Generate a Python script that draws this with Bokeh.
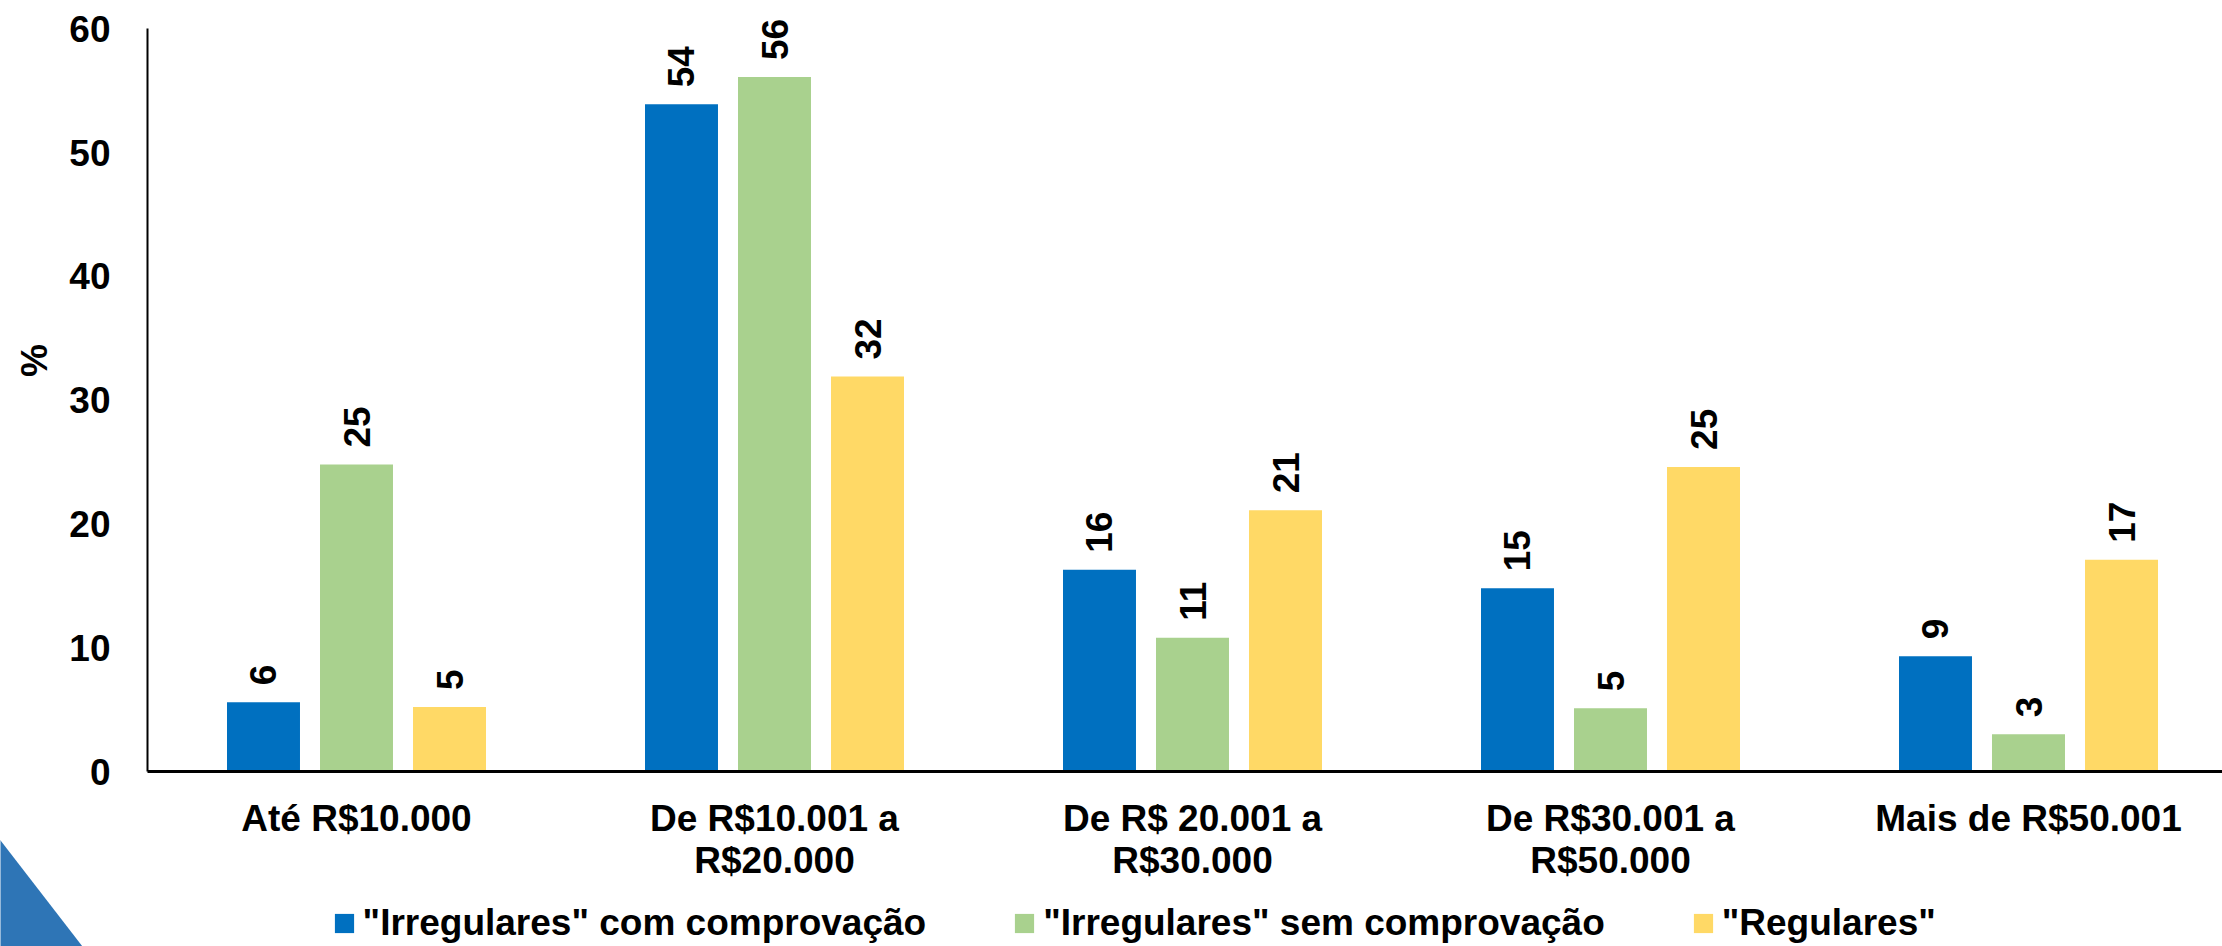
import numpy as np
from bokeh.plotting import figure
from bokeh.models import (ColumnDataSource, FixedTicker, Range1d, Legend, LegendItem,
                          Label, PolyAnnotation)
from bokeh.core.properties import value
from bokeh.embed import file_html
from bokeh.resources import INLINE

# ---------------- data ----------------
categories = ["Até R$10.000", "De R$10.001 a\nR$20.000", "De R$ 20.001 a\nR$30.000",
              "De R$30.001 a\nR$50.000", "Mais de R$50.001"]
series_names = ['"Irregulares" com comprovação', '"Irregulares" sem comprovação', '"Regulares"']
irregulares_com = [5.6, 53.9, 16.3, 14.8, 9.3]
irregulares_sem = [24.8, 56.1, 10.8, 5.1, 3.0]
regulares = [5.2, 31.9, 21.1, 24.6, 17.1]
y_ticks = [0, 10, 20, 30, 40, 50, 60]
colors = ["#0070C0", "#A9D18E", "#FFD966"]

FONT = "Liberation Sans"
FS = "37px"

W, H = 2222, 946
LEFT, BOTTOM = 147, 175          # pixel position of the axes origin
CAT_PX, UNIT_PX = 418, 12.38     # pixels per category / per percent point

p = figure(width=W, height=H,
           x_range=Range1d(-LEFT / CAT_PX, (W - LEFT) / CAT_PX),
           y_range=Range1d(-BOTTOM / UNIT_PX, (H - BOTTOM) / UNIT_PX),
           output_backend="svg", toolbar_location=None, min_border=0)
p.outline_line_color = None
p.grid.visible = False
p.background_fill_color = "white"
p.border_fill_color = "white"

centers = [i + 0.5 for i in range(len(categories))]
offsets = [-0.2225, 0.0, 0.2225]
bar_w = 0.1746

renderers = []
for vals, col, off in zip([irregulares_com, irregulares_sem, regulares], colors, offsets):
    src = ColumnDataSource(dict(x=[c + off for c in centers], top=vals,
                                label=[f"{v:.0f}" for v in vals]))
    r = p.vbar(x="x", top="top", bottom=0, width=bar_w, source=src,
               fill_color=col, line_color=None)
    renderers.append(r)
    p.text(x="x", y="top", text="label", source=src, angle=np.pi / 2,
           text_align="left", text_baseline="middle", y_offset=-17,
           text_font=value(FONT), text_font_style="bold", text_font_size=FS,
           text_color="black")

# y axis
p.yaxis.fixed_location = 0
p.yaxis.ticker = FixedTicker(ticks=y_ticks)
p.yaxis.bounds = (0, 60)
p.yaxis.major_tick_line_color = None
p.yaxis.minor_tick_line_color = None
p.yaxis.axis_line_color = "black"
p.yaxis.axis_line_width = 2
p.yaxis.major_label_text_font = FONT
p.yaxis.major_label_text_font_style = "bold"
p.yaxis.major_label_text_font_size = FS
p.yaxis.major_label_text_color = "black"
p.yaxis.major_label_standoff = 31

# x axis
p.xaxis.fixed_location = 0
p.xaxis.ticker = FixedTicker(ticks=centers)
p.xaxis.bounds = (0, (W - LEFT) / CAT_PX)
p.xaxis.major_label_overrides = {c: lab for c, lab in zip(centers, categories)}
p.xaxis.major_tick_line_color = None
p.xaxis.minor_tick_line_color = None
p.xaxis.axis_line_color = "black"
p.xaxis.axis_line_width = 3
p.xaxis.major_label_text_font = FONT
p.xaxis.major_label_text_font_style = "bold"
p.xaxis.major_label_text_font_size = FS
p.xaxis.major_label_text_color = "black"
p.xaxis.major_label_text_line_height = 1.03
p.xaxis.major_label_standoff = 20

# "%" axis title
p.add_layout(Label(x=34, y=586, x_units="screen", y_units="screen", text="%",
                   angle=np.pi / 2, text_align="center", text_baseline="middle",
                   text_font=FONT, text_font_style="bold", text_font_size=FS,
                   text_color="black"))

# legend at the bottom
legend = Legend(items=[LegendItem(label=n, renderers=[r]) for n, r in zip(series_names, renderers)],
                orientation="horizontal", location=(331.6, 2),
                label_text_font=FONT, label_text_font_style="bold", label_text_font_size=FS,
                label_text_color="black", glyph_width=24, glyph_height=24,
                label_standoff=7, spacing=86, padding=0, margin=0,
                border_line_color=None, background_fill_alpha=0)
p.add_layout(legend, "center")

# decorative triangle bottom-left
p.add_layout(PolyAnnotation(xs=[-3, 84.3, -3], ys=[110, -3, -3], xs_units="screen",
                            ys_units="screen", fill_color="#2E75B6", fill_alpha=1,
                            line_color=None))

open("out.html", "w").write(file_html(p, INLINE))
